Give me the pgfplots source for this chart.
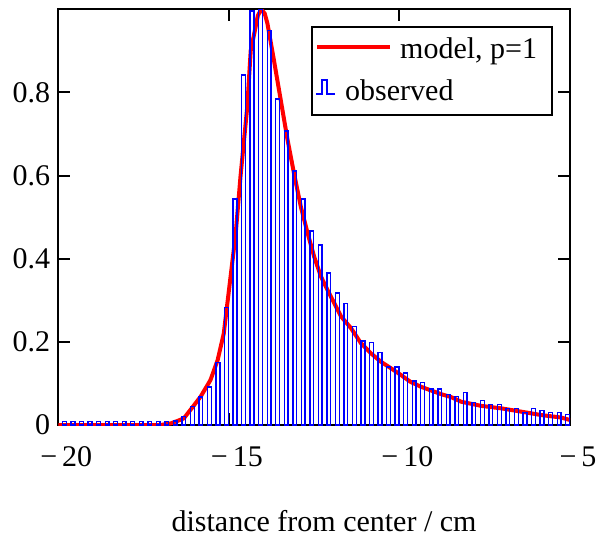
\documentclass[border=0pt]{standalone}
\usepackage{fontspec}
\setmainfont{Liberation Serif}
\usepackage{pgfplots}
\pgfplotsset{compat=1.18}
\newcommand{\bigfont}{\fontsize{30}{36}\selectfont}
\begin{document}
\begin{tikzpicture}
\begin{axis}[
  at={(58.3pt,-425pt)}, anchor=south west,
  width=511.7pt, height=415.7pt, scale only axis,
  xmin=-20, xmax=-5, ymin=0, ymax=1,
  xtick={-20,-15,-10,-5},
  xticklabels={{−\,20},{−\,15},{−\,10},{−\,5}},
  ytick={0,0.2,0.4,0.6,0.8},
  yticklabels={0,0.2,0.4,0.6,0.8},
  tick align=inside,
  major tick length=12pt,
  axis line style={line width=2pt, black},
  tick style={black, line width=2pt},
  xticklabel style={font=\bigfont, inner sep=0pt, anchor=north, yshift=-21.7pt, xshift=8pt},
  yticklabel style={font=\bigfont, inner sep=0pt, anchor=east, xshift=-8pt},
  xlabel={distance from center / cm},
  xlabel style={font=\bigfont, at={(axis description cs:0.5,0)}, anchor=base, inner sep=0pt, yshift=-106.7pt, xshift=9.9pt},
]
\addplot[red, line width=4pt, line join=round] coordinates {
(-20,0) (-17.0,0) (-16.7,0.004) (-16.5,0.01) (-16.32,0.016) (-16.13,0.036) (-15.83,0.068)
(-15.54,0.108) (-15.33,0.156) (-15.15,0.22) (-14.95,0.357) (-14.80,0.46) (-14.66,0.597)
(-14.46,0.766) (-14.36,0.90) (-14.26,0.94) (-14.15,0.985) (-14.05,1.0) (-13.95,0.99)
(-13.87,0.966) (-13.68,0.878) (-13.48,0.782) (-13.28,0.686) (-13.09,0.605) (-12.89,0.525)
(-12.69,0.461) (-12.50,0.405) (-12.30,0.357) (-12.11,0.325) (-11.91,0.293) (-11.71,0.261)
(-11.42,0.233) (-11.13,0.197) (-10.83,0.172) (-10.54,0.152) (-10.24,0.136) (-9.95,0.120)
(-9.68,0.104) (-9.37,0.092) (-9.07,0.083) (-8.77,0.074) (-8.48,0.067) (-8.19,0.056)
(-7.60,0.046) (-7.01,0.040) (-6.42,0.032) (-5.85,0.024) (-5.26,0.018) (-5.0,0.012)
};
\addplot[ybar, bar width=0.11, draw=blue, fill=none, line width=1.4pt] coordinates {
(-19.82,0.008) (-19.57,0.008) (-19.32,0.008) (-19.07,0.008) (-18.82,0.008) (-18.57,0.008)
(-18.32,0.008) (-18.07,0.008) (-17.82,0.008) (-17.57,0.008) (-17.32,0.008) (-17.07,0.008)
(-16.82,0.008) (-16.57,0.010) (-16.32,0.020) (-16.07,0.044) (-15.82,0.067) (-15.57,0.091)
(-15.32,0.150) (-15.07,0.283) (-14.82,0.544) (-14.57,0.842) (-14.32,0.996) (-14.07,1.0)
(-13.82,0.949) (-13.57,0.784) (-13.32,0.707) (-13.07,0.611) (-12.82,0.544) (-12.57,0.467)
(-12.32,0.433) (-12.07,0.366) (-11.82,0.318) (-11.57,0.293) (-11.32,0.237) (-11.07,0.202)
(-10.82,0.198) (-10.57,0.174) (-10.32,0.140) (-10.07,0.140) (-9.82,0.125) (-9.57,0.106)
(-9.32,0.102) (-9.07,0.087) (-8.82,0.087) (-8.57,0.073) (-8.32,0.068) (-8.07,0.078)
(-7.82,0.054) (-7.57,0.059) (-7.32,0.049) (-7.07,0.049) (-6.82,0.040) (-6.57,0.040)
(-6.32,0.030) (-6.07,0.040) (-5.82,0.035) (-5.57,0.030) (-5.32,0.030) (-5.07,0.026)
};
\end{axis}
\begin{scope}[x=1pt, y=-1pt]
\draw[line width=2pt, fill=white] (312.3,27.3) rectangle (552.3,115);
\draw[red, line width=4pt] (317.3,46.7) -- (390,46.7);
\node[anchor=base west, inner sep=0pt, font=\bigfont] at (400,58.3) {model, p=1};
\draw[blue, line width=1.6pt] (316,94) -- (321.7,94) -- (321.7,80) -- (326.7,80) -- (326.7,94) -- (335,94);
\node[anchor=base west, inner sep=0pt, font=\bigfont] at (345,100) {observed};
\end{scope}
\pgfresetboundingbox
\path (0pt,0pt) rectangle (601pt,-538pt);
\end{tikzpicture}
\end{document}
